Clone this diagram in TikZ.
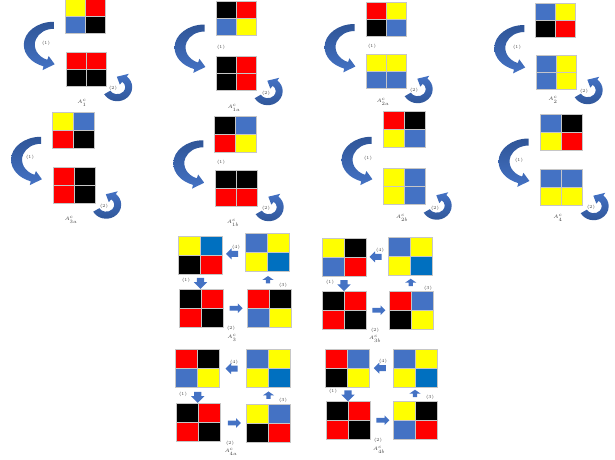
\documentclass[tikz,border=0pt]{standalone}
\usepackage{tikz}
\usetikzlibrary{calc,shapes.arrows}
\definecolor{qred}{HTML}{FF0000}
\definecolor{qyellow}{HTML}{FFFF00}
\definecolor{qblue}{HTML}{4472C4}
\definecolor{qdeep}{HTML}{0070C0}
\definecolor{qblack}{HTML}{000000}
\definecolor{arrdark}{HTML}{2F5597}
\tikzset{
      tile/.style={
        draw=gray!45,
        line width=0.4pt,
        inner sep=0pt,
        minimum width=40pt,
        minimum height=34pt
      },
      wide/.style={minimum width=42pt, minimum height=36pt},
      big/.style={minimum width=44pt, minimum height=38pt},
      quad/.style n args={4}{
        path picture={
          \fill[#1] (path picture bounding box.north west) rectangle (path picture bounding box.center);
          \fill[#2] (path picture bounding box.north east) rectangle (path picture bounding box.center);
          \fill[#3] (path picture bounding box.south west) rectangle (path picture bounding box.center);
          \fill[#4] (path picture bounding box.south east) rectangle (path picture bounding box.center);
          \draw[gray!45, line width=0.4pt] (path picture bounding box.north) -- (path picture bounding box.south)
            (path picture bounding box.west) -- (path picture bounding box.east);
        }
      },
      blockarr/.style={
        single arrow,
        fill=qblue,
        inner sep=2.5pt,
        single arrow head extend=2.5pt,
        minimum height=12pt
      },
      goleft/.style={blockarr, shape border rotate=180, inner sep=2.8pt},
      goright/.style={blockarr, inner sep=2.2pt, minimum height=13pt},
      godown/.style={blockarr, shape border rotate=270, inner sep=3.5pt, minimum height=8pt, single arrow head extend=3pt},
      goup/.style={blockarr, shape border rotate=90, inner sep=2pt, minimum height=7.5pt, single arrow head extend=3.5pt, single arrow tip angle=110},
      lbl/.style={font=\fontsize{4.5}{5}\selectfont, inner sep=0pt, text=black!75}
    }
\newcommand\turnA[1]{%
  \shade[top color=arrdark, bottom color=qblue]
    ($(#1)+(270:30 and 23)$) arc[start angle=270, end angle=110, x radius=30, y radius=23]
    -- ($(#1)+(110:33 and 27)$) -- ($(#1)+(88:25 and 19.5)$) -- ($(#1)+(110:15 and 12)$)
    -- ($(#1)+(110:19 and 16)$) arc[start angle=110, end angle=270, x radius=19, y radius=16] -- cycle;}
\newcommand\turnB[1]{%
  \shade[bottom color=arrdark, top color=qblue]
    ($(#1)+(150:15 and 14)$) arc[start angle=150, end angle=-50, x radius=15, y radius=14]
    -- ($(#1)+(-50:18 and 17.5)$) -- ($(#1)+(-92:11 and 10.5)$) -- ($(#1)+(-50:4 and 3.5)$)
    -- ($(#1)+(-50:8 and 7)$) arc[start angle=-50, end angle=150, x radius=8, y radius=7] -- cycle;}

\begin{document}
\begin{tikzpicture}[x=1pt,y=-1pt]
    \useasboundingbox (0,0) rectangle (615,459);
    \node[tile, quad={qyellow}{qred}{qblue}{qblack}] (t1) at (85,16.5) {};
    \node[tile, quad={qred}{qred}{qblack}{qblack}] (b1) at (86,69) {};
    \node[tile, quad={qblack}{qred}{qblue}{qyellow}] (t2) at (236,18) {};
    \node[tile, quad={qblack}{qred}{qblack}{qred}] (b2) at (236.5,73) {};
    \node[tile, quad={qred}{qyellow}{qblack}{qblue}] (t3) at (386,19) {};
    \node[tile, quad={qyellow}{qyellow}{qblue}{qblue}] (b3) at (386.5,71) {};
    \node[tile, quad={qblue}{qyellow}{qblack}{qred}] (t4) at (555.5,20) {};
    \node[tile, quad={qblue}{qyellow}{qblue}{qyellow}] (b4) at (556.5,72) {};
    \node[tile, wide, quad={qyellow}{qblue}{qred}{qblack}] (t5) at (73.5,130) {};
    \node[tile, wide, quad={qred}{qblack}{qred}{qblack}] (b5) at (74,185.5) {};
    \node[tile, wide, quad={qblack}{qblue}{qred}{qyellow}] (t6) at (235.5,134.5) {};
    \node[tile, wide, quad={qblack}{qblack}{qred}{qred}] (b6) at (236.5,188) {};
    \node[tile, wide, quad={qred}{qblack}{qyellow}{qblue}] (t7) at (404,129) {};
    \node[tile, wide, quad={qyellow}{qblue}{qyellow}{qblue}] (b7) at (404.5,186.5) {};
    \node[tile, wide, quad={qblue}{qblack}{qyellow}{qred}] (t8) at (561,132) {};
    \node[tile, wide, quad={qblue}{qblue}{qyellow}{qyellow}] (b8) at (561.5,187) {};
    \foreach \k in {1,...,8}{
      \coordinate (a\k) at ($(t\k.west)!0.5!(b\k.west)+(-11.5,2)$);
      \coordinate (r\k) at ($(b\k.south east)+(11,1)$);
      \turnA{a\k}
      \turnB{r\k}
    }
    \node[lbl] (n1) at (46,43) {(1)};
    \node[lbl] (m1) at (113,88) {(2)};
    \node[lbl] (k1) at (82,103) {$A_1^c$};
    \node[lbl] (n2) at (221,47) {(1)};
    \node[lbl] (m2) at (266,93) {(2)};
    \node[lbl] (k2) at (234,108) {$A_{1a}^c$};
    \node[lbl] (n3) at (372,46) {(1)};
    \node[lbl] (m3) at (414,90) {(2)};
    \node[lbl] (k3) at (383,102) {$A_{2a}^c$};
    \node[lbl] (n4) at (517,47) {(1)};
    \node[lbl] (m4) at (584,91) {(2)};
    \node[lbl] (k4) at (553,100) {$A_2^c$};
    \node[lbl] (n5) at (30,157) {(1)};
    \node[lbl] (m5) at (104,206) {(2)};
    \node[lbl] (k5) at (71,220) {$A_{3a}^c$};
    \node[lbl] (n6) at (221,162) {(1)};
    \node[lbl] (m6) at (266,208) {(2)};
    \node[lbl] (k6) at (233,223) {$A_{1b}^c$};
    \node[lbl] (n7) at (368,158) {(1)};
    \node[lbl] (m7) at (435,208) {(2)};
    \node[lbl] (k7) at (402,218) {$A_{2b}^c$};
    \node[lbl] (n8) at (519,160) {(1)};
    \node[lbl] (m8) at (591,207) {(2)};
    \node[lbl] (k8) at (558,218) {$A_4^c$};
    \node[tile, big, quad={qyellow}{qdeep}{qblack}{qred}] (tl9) at (200,255) {};
    \node[tile, big, quad={qblue}{qyellow}{qyellow}{qdeep}] (tr9) at (267,252.5) {};
    \node[tile, big, quad={qblack}{qred}{qred}{qblack}] (bl9) at (201,308) {};
    \node[tile, big, quad={qred}{qblack}{qblue}{qyellow}] (br9) at (269,308.5) {};
    \node[tile, big, quad={qyellow}{qblack}{qblue}{qred}] (tl10) at (344,257.5) {};
    \node[tile, big, quad={qblue}{qyellow}{qyellow}{qdeep}] (tr10) at (410,256) {};
    \node[tile, big, quad={qblack}{qred}{qred}{qblack}] (bl10) at (344,310) {};
    \node[tile, big, quad={qred}{qblue}{qblack}{qyellow}] (br10) at (411.5,310.5) {};
    \node[tile, big, quad={qred}{qblack}{qblue}{qyellow}] (tl11) at (197.5,368.5) {};
    \node[tile, big, quad={qblue}{qyellow}{qyellow}{qdeep}] (tr11) at (268.5,368.5) {};
    \node[tile, big, quad={qblack}{qred}{qred}{qblack}] (bl11) at (198,422.5) {};
    \node[tile, big, quad={qyellow}{qblue}{qblack}{qred}] (br11) at (268.5,423.5) {};
    \node[tile, big, quad={qred}{qblue}{qblack}{qyellow}] (tl12) at (347.5,368) {};
    \node[tile, big, quad={qblue}{qyellow}{qyellow}{qdeep}] (tr12) at (415,368) {};
    \node[tile, big, quad={qblack}{qred}{qred}{qblack}] (bl12) at (348.5,420) {};
    \node[tile, big, quad={qyellow}{qblack}{qblue}{qred}] (br12) at (415,420.5) {};
    \foreach \k in {9,...,12}{
      \node[goleft] (p\k) at ($(tl\k.east)!0.5!(tr\k.west)$) {};
      \node[godown] (d\k) at ($(tl\k.south)!0.5!(bl\k.north)$) {};
      \node[goright] (g\k) at ($(bl\k.east)!0.5!(br\k.west)$) {};
      \node[goup] (u\k) at ($(br\k.north)!0.5!(tr\k.south)$) {};
    }
    \node[lbl] (h9) at (236,247) {(4)};
    \node[lbl] (n9) at (186,280) {(1)};
    \node[lbl] (o9) at (283,285) {(3)};
    \node[lbl] (m9) at (231,328) {(2)};
    \node[lbl] (k9) at (232,338) {$A_3^c$};
    \node[lbl] (h10) at (380,250) {(4)};
    \node[lbl] (n10) at (330,282) {(1)};
    \node[lbl] (o10) at (428,288) {(3)};
    \node[lbl] (m10) at (375,330) {(2)};
    \node[lbl] (k10) at (375,339) {$A_{3b}^c$};
    \node[lbl] (h11) at (234,362) {(4)};
    \node[lbl] (n11) at (183,394) {(1)};
    \node[lbl] (o11) at (283,400) {(3)};
    \node[lbl] (m11) at (230,443) {(2)};
    \node[lbl] (k11) at (231,452) {$A_{4a}^c$};
    \node[lbl] (h12) at (383,361) {(4)};
    \node[lbl] (n12) at (333,391) {(1)};
    \node[lbl] (o12) at (430,397) {(3)};
    \node[lbl] (m12) at (378,440) {(2)};
    \node[lbl] (k12) at (379,450) {$A_{4b}^c$};
\end{tikzpicture}
\end{document}
